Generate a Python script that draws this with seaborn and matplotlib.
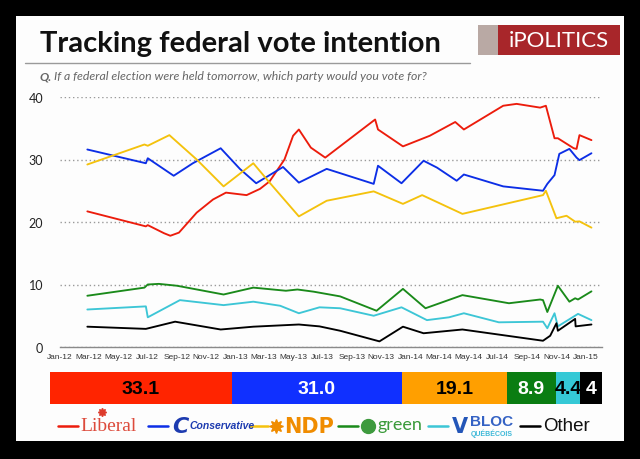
import matplotlib
matplotlib.use("Agg")
import matplotlib.pyplot as plt
import matplotlib.dates as mdates
from matplotlib.patches import Rectangle
from matplotlib.lines import Line2D
import pandas as pd
import seaborn as sns

# ---------------- data ----------------
parties = ["Liberal", "Conservative", "NDP", "Green", "Bloc", "Other"]

lib_dates = ["2012-02-27", "2012-06-28", "2012-07-02", "2012-08-05", "2012-08-18", "2012-09-05",
             "2012-10-12", "2012-11-15", "2012-12-12",
             "2013-01-24", "2013-02-21", "2013-03-13", "2013-04-13", "2013-05-01", "2013-05-13",
             "2013-06-07", "2013-07-07", "2013-10-19", "2013-10-25", "2013-12-16", "2014-02-10",
             "2014-04-04", "2014-04-22", "2014-07-13", "2014-08-10", "2014-09-28", "2014-10-10",
             "2014-10-28", "2014-11-04", "2014-12-07", "2014-12-13", "2014-12-19", "2015-01-13"]
lib_vals = [21.7, 19.3, 19.5, 18.2, 17.8, 18.3,
            21.5, 23.6, 24.7,
            24.3, 25.3, 26.5, 30.0, 33.8, 34.8,
            31.9, 30.3, 36.4, 34.8, 32.1, 33.8,
            36.0, 34.8, 38.6, 38.9, 38.3, 38.6,
            33.4, 33.4, 31.8, 31.7, 33.9, 33.1]

con_dates = ["2012-02-27", "2012-06-28", "2012-07-02", "2012-08-25", "2012-10-04", "2012-12-01",
             "2013-01-10", "2013-02-13", "2013-04-10", "2013-05-13", "2013-07-10", "2013-10-16",
             "2013-10-25", "2013-12-13", "2014-01-28", "2014-02-25", "2014-04-07", "2014-04-22",
             "2014-07-13", "2014-10-04", "2014-10-13", "2014-10-28", "2014-11-07", "2014-11-28",
             "2014-12-13", "2014-12-19", "2015-01-13"]
con_vals = [31.6, 29.4, 30.2, 27.4, 29.4, 31.8,
            28.5, 26.2, 28.8, 26.3, 28.5, 26.1,
            29.0, 26.2, 29.8, 28.7, 26.6, 27.6,
            25.7, 25.0, 26.1, 27.5, 30.9, 31.7,
            30.3, 29.9, 31.0]

ndp_dates = ["2012-02-27", "2012-06-25", "2012-07-02", "2012-08-16", "2012-10-12", "2012-12-07",
             "2013-02-07", "2013-03-13", "2013-05-13", "2013-07-10", "2013-10-16", "2013-12-16",
             "2014-01-25", "2014-04-19", "2014-10-04", "2014-10-10", "2014-11-01", "2014-11-22",
             "2014-12-10", "2014-12-19", "2015-01-13"]
ndp_vals = [29.2, 32.4, 32.2, 33.9, 30.0, 25.7,
            29.4, 26.3, 20.9, 23.4, 24.9, 22.9,
            24.3, 21.3, 24.3, 25.0, 20.6, 21.0,
            20.05, 20.1, 19.1]

grn_dates = ["2012-02-27", "2012-06-25", "2012-07-02", "2012-07-25", "2012-09-01", "2012-12-07",
             "2013-02-07", "2013-04-16", "2013-05-10", "2013-06-13", "2013-08-07", "2013-10-22",
             "2013-12-16", "2014-02-01", "2014-04-19", "2014-07-25", "2014-09-28", "2014-10-04",
             "2014-10-13", "2014-11-04", "2014-11-28", "2014-12-10", "2014-12-16", "2015-01-13"]
grn_vals = [8.2, 9.5, 10.0, 10.1, 9.8, 8.4,
            9.5, 9.0, 9.2, 8.85, 8.1, 5.8,
            9.3, 6.2, 8.3, 7.0, 7.6, 7.5,
            5.6, 9.8, 7.25, 7.8, 7.6, 8.9]

bq_dates = ["2012-02-27", "2012-06-28", "2012-07-02", "2012-09-07", "2012-12-07", "2013-02-07",
            "2013-04-04", "2013-05-13", "2013-06-25", "2013-08-07", "2013-10-16", "2013-12-13",
            "2014-02-04", "2014-03-22", "2014-04-22", "2014-07-04", "2014-10-04", "2014-10-13",
            "2014-10-28", "2014-11-04", "2014-12-16", "2015-01-13"]
bq_vals = [6.0, 6.5, 4.75, 7.5, 6.7, 7.25,
           6.6, 5.4, 6.35, 6.2, 5.0, 6.35,
           4.3, 4.75, 5.4, 3.95, 4.05, 3.0,
           5.4, 3.3, 5.3, 4.3]

oth_dates = ["2012-02-27", "2012-06-28", "2012-08-28", "2012-12-01", "2013-02-07", "2013-05-13",
             "2013-06-25", "2013-08-07", "2013-10-28", "2013-12-16", "2014-01-28", "2014-04-19",
             "2014-10-04", "2014-10-19", "2014-11-01", "2014-11-04", "2014-12-10", "2014-12-11",
             "2015-01-13"]
oth_vals = [3.25, 2.9, 4.05, 2.8, 3.25, 3.6,
            3.3, 2.6, 0.9, 3.25, 2.2, 2.8,
            1.0, 1.8, 3.8, 2.6, 4.5, 3.3,
            3.6]

latest_labels = ["33.1", "31.0", "19.1", "8.9", "4.4", "4"]
latest_vals = [33.1, 31.0, 19.1, 8.9, 4.4, 4.0]

tick_labels_fmt = "%b-%y"

line_colors = {"Liberal": "#ec1c0c", "Conservative": "#0c2ee6", "NDP": "#f4c20d",
               "Green": "#1a8a1a", "Bloc": "#3dc6d6", "Other": "#000000"}
bar_colors = ["#ff2400", "#1030ff", "#ff9f00", "#0a7d12", "#35c9d6", "#000000"]
bar_text_colors = ["black", "white", "black", "white", "black", "white"]

series = {"Liberal": (lib_dates, lib_vals), "Conservative": (con_dates, con_vals),
          "NDP": (ndp_dates, ndp_vals), "Green": (grn_dates, grn_vals),
          "Bloc": (bq_dates, bq_vals), "Other": (oth_dates, oth_vals)}
frames = []
for p in parties:
    d, v = series[p]
    frames.append(pd.DataFrame({"date": pd.to_datetime(d), "value": v, "party": p}))
df = pd.concat(frames, ignore_index=True)

# ---------------- figure ----------------
sns.set_theme(style="white")
plt.rcParams["font.family"] = ["Lato", "DejaVu Sans"]

W, H = 640, 460
fig = plt.figure(figsize=(W / 100, H / 100), dpi=100, facecolor="black")

def fx(px):
    return px / W

def fy(py):
    return 1 - py / H

# white panel
fig.patches.append(Rectangle((fx(16), fy(442)), fx(608), (442 - 17) / H,
                             transform=fig.transFigure, facecolor="#fdfdfd",
                             edgecolor="none", zorder=-5))

# title
fig.text(fx(40), fy(44), "Tracking federal vote intention", fontsize=21,
         fontweight="bold", color="#111111", va="center", ha="left")
# rule
fig.add_artist(Line2D([fx(25), fx(470)], [fy(64), fy(64)], transform=fig.transFigure,
                      color="#9a9a9a", lw=1.0))
# subtitle
fig.text(fx(40), fy(77), "Q.", fontsize=8.8, fontweight="bold", style="italic",
         color="#666666", va="center", ha="left")
fig.text(fx(54), fy(77), "If a federal election were held tomorrow, which party would you vote for?",
         fontsize=8.8, style="italic", color="#666666", va="center", ha="left")

# logo
fig.patches.append(Rectangle((fx(478), fy(56)), fx(22), 30 / H, transform=fig.transFigure,
                             facecolor="#b9a9a4", edgecolor="none", zorder=-4))
fig.patches.append(Rectangle((fx(498), fy(56)), fx(122), 30 / H, transform=fig.transFigure,
                             facecolor="#a8262a", edgecolor="none", zorder=-4))
fig.text(fx(559), fy(41), "iPOLITICS", fontsize=16, color="white", ha="center", va="center",
         family=["Lato", "DejaVu Sans"], zorder=2)

# ---------------- line chart ----------------
ax = fig.add_axes([fx(60), fy(348), fx(542), 250 / H])
ax.set_facecolor("none")
sns.lineplot(data=df, x="date", y="value", hue="party", hue_order=parties,
             palette=line_colors, legend=False, linewidth=1.35, ax=ax, estimator=None)
ax.set_xlim(pd.Timestamp("2012-01-01"), pd.Timestamp("2015-02-04"))
ax.set_ylim(0, 40)
ax.set_yticks([0, 10, 20, 30, 40])
ax.xaxis.set_major_locator(mdates.MonthLocator(bymonth=[1, 3, 5, 7, 9, 11]))
ax.xaxis.set_major_formatter(mdates.DateFormatter(tick_labels_fmt))
ax.set_xlabel("")
ax.set_ylabel("")
for s in ["left", "right", "top"]:
    ax.spines[s].set_visible(False)
ax.spines["bottom"].set_color("#8a8a8a")
ax.spines["bottom"].set_linewidth(1.0)
ax.yaxis.grid(True, color="#9a9a9a", linestyle=(0, (1, 2)), linewidth=1.0)
ax.xaxis.grid(False)
ax.tick_params(axis="x", direction="inout", length=5, width=0.8, color="#8a8a8a",
               labelsize=6, pad=2, labelcolor="#333333")
ax.tick_params(axis="y", length=0, labelsize=9, pad=12, labelcolor="#222222")
for lab in ax.get_xticklabels():
    lab.set_family(["Liberation Sans", "DejaVu Sans"])
ax.set_axisbelow(True)

# ---------------- stacked bar ----------------
bax = fig.add_axes([fx(50), fy(405), fx(552), 32 / H])
lefts = [sum(latest_vals[:i]) for i in range(len(latest_vals))]
bax.barh([0] * len(latest_vals), latest_vals, left=lefts, height=1.0, color=bar_colors,
         edgecolor="none")
bax.set_xlim(0, sum(latest_vals))
bax.set_ylim(-0.5, 0.5)
bax.axis("off")
for l, v, lab, tc in zip(lefts, latest_vals, latest_labels, bar_text_colors):
    bax.text(l + v / 2, -0.02, lab, ha="center", va="center", color=tc, fontsize=14,
             fontweight="bold", family=["Liberation Sans", "DejaVu Sans"])

# ---------------- custom legend ----------------
ly = fy(427)
def seg(x0, x1, c):
    fig.add_artist(Line2D([fx(x0), fx(x1)], [ly, ly], transform=fig.transFigure, color=c, lw=1.8))

seg(58, 78, line_colors["Liberal"])
fig.text(fx(80), ly, "Liberal", fontsize=14, color="#dd4b3c", va="center", ha="left",
         family=["Liberation Serif", "DejaVu Serif"])
fig.add_artist(Line2D([fx(102)], [fy(413)], transform=fig.transFigure, marker=(8, 1, 0),
                      markersize=6, color="#dd3b2c", lw=0))

seg(148, 168, line_colors["Conservative"])
fig.text(fx(172), ly, "C", fontsize=16, color="#1d3bb0", fontweight="heavy", style="italic",
         va="center", ha="left", family=["DejaVu Sans"])
fig.text(fx(189), ly + 0.002, "Conservative", fontsize=7.5, color="#1d3bb0", fontweight="bold",
         style="italic", va="center", ha="left",
         family=["Liberation Sans", "DejaVu Sans"])

seg(250, 268, line_colors["NDP"])
fig.add_artist(Line2D([fx(276)], [ly], transform=fig.transFigure, marker=(8, 1, 0),
                      markersize=10, color="#f08c00", lw=0))
fig.text(fx(284), ly, "NDP", fontsize=15, color="#f08c00", fontweight="heavy", va="center",
         ha="left", family=["DejaVu Sans"])

seg(338, 358, line_colors["Green"])
fig.add_artist(Line2D([fx(368)], [ly], transform=fig.transFigure, marker="o",
                      markersize=10, color="#3e9a3e", lw=0))
fig.text(fx(378), ly + 0.004, "green", fontsize=13, color="#3a9a3a", va="center", ha="left",
         family=["Lato", "DejaVu Sans"])

seg(428, 448, line_colors["Bloc"])
fig.text(fx(452), ly, "V", fontsize=15, color="#2456b8", fontweight="bold", va="center",
         ha="left", family=["DejaVu Sans"])
fig.text(fx(470), fy(422), "BLOC", fontsize=11, color="#3462c4", fontweight="bold",
         va="center", ha="left", family=["Liberation Sans", "DejaVu Sans"])
fig.text(fx(471), fy(434), "QUÉBÉCOIS", fontsize=5, color="#3cb8d8", fontweight="bold",
         va="center", ha="left", family=["Liberation Sans", "DejaVu Sans"])

seg(520, 540, "#000000")
fig.text(fx(543), ly, "Other", fontsize=13.5, color="#111111", va="center", ha="left",
         family=["Liberation Sans", "DejaVu Sans"])

fig.savefig("out.png", dpi=100, facecolor="black")
